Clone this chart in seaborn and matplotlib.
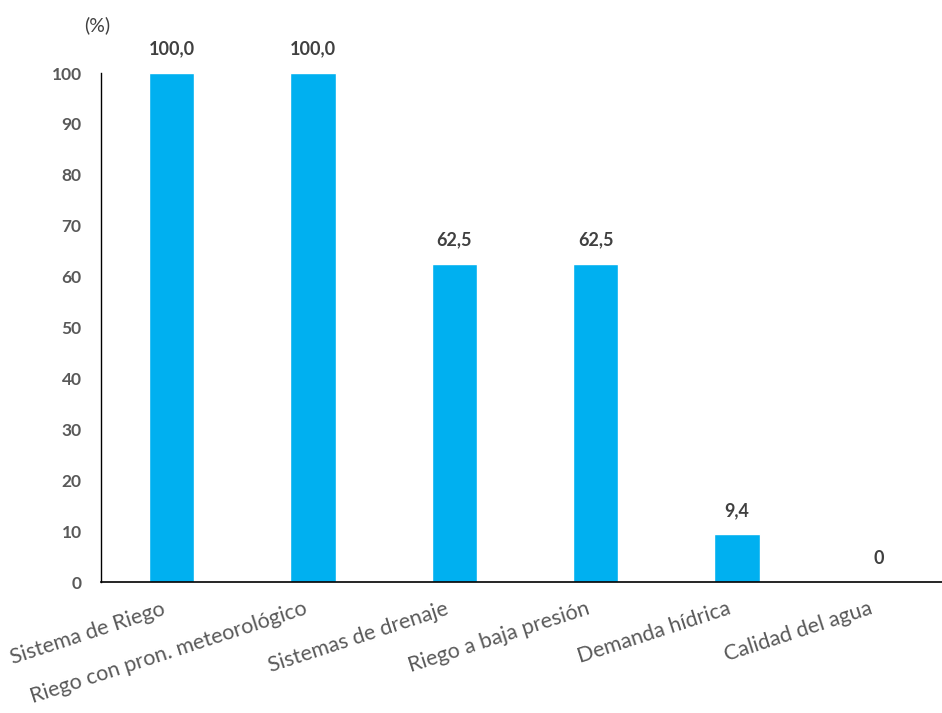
import matplotlib
matplotlib.use('Agg')
import matplotlib.pyplot as plt
import matplotlib.transforms as mtransforms
import seaborn as sns
import pandas as pd

categorias = ['Sistema de Riego', 'Riego con pron. meteorológico', 'Sistemas de drenaje',
              'Riego a baja presión', 'Demanda hídrica', 'Calidad del agua']
valores = [100.0, 100.0, 62.5, 62.5, 9.4, 0]
etiquetas = ['100,0', '100,0', '62,5', '62,5', '9,4', '0']

df = pd.DataFrame({'cat': categorias, 'val': valores})

sns.set_theme(style='white')
plt.rcParams['font.family'] = ['Lato', 'DejaVu Sans']

fig = plt.figure(figsize=(9.42, 7.13), dpi=100)
ax = fig.add_axes([0.1072, 0.1837, 0.8928, 0.7139])
sns.barplot(data=df, x='cat', y='val', color='#00B0F0', saturation=1, width=0.32, ax=ax)

for i, (v, t) in enumerate(zip(valores, etiquetas)):
    ax.text(i, v + 3, t, ha='center', va='bottom', fontsize=13, fontweight='bold', color='#404040')

ax.set_ylim(0, 100)
ax.set_xlim(-0.5, 5.45)
ax.set_yticks(range(0, 101, 10))
ax.tick_params(axis='y', length=0, pad=14, labelsize=12.5, labelcolor='#595959')
ax.tick_params(axis='x', length=0, pad=12, labelsize=15.5, labelcolor='#595959')
for lab in ax.get_yticklabels():
    lab.set_fontweight('bold')
ax.set_xticks(range(len(categorias)))
ax.set_xticklabels(categorias, rotation=18, ha='right', rotation_mode='anchor')
shift = mtransforms.ScaledTranslation(-10 / 100, 0, fig.dpi_scale_trans)
for lab in ax.get_xticklabels():
    lab.set_transform(lab.get_transform() + shift)
ax.set_xlabel('')
ax.set_ylabel('')
for s in ['top', 'right']:
    ax.spines[s].set_visible(False)
ax.spines['left'].set_color('black')
ax.spines['bottom'].set_color('black')
ax.spines['left'].set_linewidth(1)
ax.spines['bottom'].set_linewidth(1.2)
ax.text(-0.005, 1.094, '(%)', transform=ax.transAxes, ha='center', va='center',
        fontsize=14, color='#404040')

fig.savefig('out.png', dpi=100)
